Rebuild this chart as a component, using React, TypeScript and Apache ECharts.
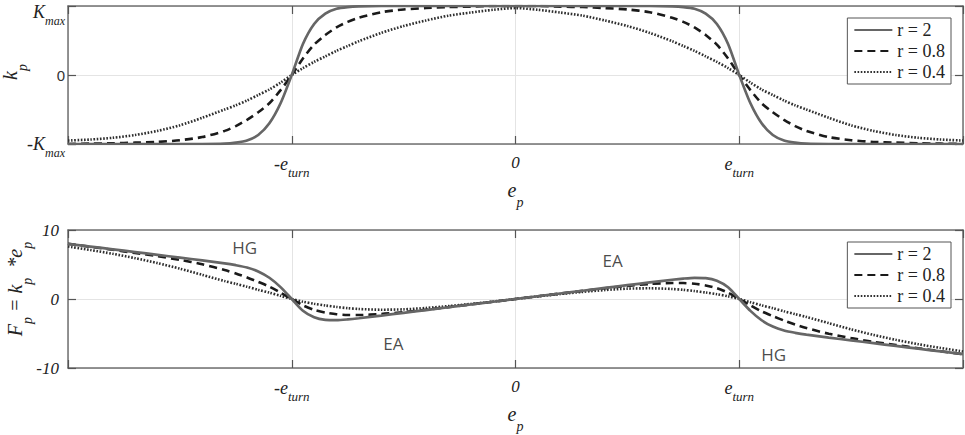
import React, { useEffect, useRef } from "react";
import * as echarts from "echarts";

const seriesNames = ["r = 2", "r = 0.8", "r = 0.4"];

const eValues = [
  -2, -1.9, -1.8, -1.7, -1.6, -1.5, -1.4, -1.3, -1.25, -1.2, -1.15, -1.1, -1.05, -1,
  -0.95, -0.9, -0.85, -0.8, -0.75, -0.7, -0.6, -0.5, -0.4, -0.3, -0.2, -0.1, 0,
  0.1, 0.2, 0.3, 0.4, 0.5, 0.6, 0.7, 0.75, 0.8, 0.85, 0.9, 0.95, 1,
  1.05, 1.1, 1.15, 1.2, 1.25, 1.3, 1.4, 1.5, 1.6, 1.7, 1.8, 1.9, 2,
];

// top panel: k_p (in units of K_max)
const kR2 = [
  -1, -1, -1, -1, -1, -1, -1, -0.995, -0.98, -0.95, -0.87, -0.7, -0.41, 0,
  0.45, 0.74, 0.89, 0.96, 0.985, 0.995, 1, 1, 1, 1, 1, 1, 1,
  1, 1, 1, 1, 1, 1, 0.995, 0.985, 0.96, 0.89, 0.74, 0.45, 0,
  -0.41, -0.7, -0.87, -0.95, -0.98, -0.995, -1, -1, -1, -1, -1, -1, -1,
];
const kR08 = [
  -1, -0.995, -0.99, -0.98, -0.97, -0.945, -0.9, -0.81, -0.74, -0.65, -0.54, -0.41, -0.22, 0,
  0.24, 0.44, 0.58, 0.69, 0.77, 0.83, 0.91, 0.95, 0.97, 0.985, 0.99, 1, 1,
  1, 0.99, 0.985, 0.97, 0.95, 0.91, 0.83, 0.77, 0.69, 0.58, 0.44, 0.24, 0,
  -0.22, -0.41, -0.54, -0.65, -0.74, -0.81, -0.9, -0.945, -0.97, -0.98, -0.99, -0.995, -1,
];
const kR04 = [
  -0.95, -0.935, -0.91, -0.87, -0.81, -0.73, -0.62, -0.5, -0.44, -0.37, -0.29, -0.21, -0.11, 0,
  0.1, 0.19, 0.27, 0.35, 0.42, 0.49, 0.61, 0.71, 0.79, 0.86, 0.905, 0.945, 0.97,
  0.945, 0.905, 0.86, 0.79, 0.71, 0.61, 0.49, 0.42, 0.35, 0.27, 0.19, 0.1, 0,
  -0.11, -0.21, -0.29, -0.37, -0.44, -0.5, -0.62, -0.73, -0.81, -0.87, -0.91, -0.935, -0.95,
];

// bottom panel: F_p = k_p * e_p
const fR2 = [
  8.0, 7.6, 7.2, 6.8, 6.4, 6.0, 5.6, 5.17, 4.9, 4.56, 4.0, 3.08, 1.72, 0,
  -1.71, -2.66, -3.03, -3.07, -2.96, -2.79, -2.4, -2.0, -1.6, -1.2, -0.8, -0.4, 0,
  0.4, 0.8, 1.2, 1.6, 2.0, 2.4, 2.79, 2.96, 3.07, 3.03, 2.66, 1.71, 0,
  -1.72, -3.08, -4.0, -4.56, -4.9, -5.17, -5.6, -6.0, -6.4, -6.8, -7.2, -7.6, -8.0,
];
const fR08 = [
  8.0, 7.56, 7.13, 6.66, 6.21, 5.67, 5.04, 4.21, 3.7, 3.12, 2.48, 1.8, 0.92, 0,
  -0.91, -1.58, -1.97, -2.21, -2.31, -2.32, -2.18, -1.9, -1.55, -1.18, -0.79, -0.4, 0,
  0.4, 0.79, 1.18, 1.55, 1.9, 2.18, 2.32, 2.31, 2.21, 1.97, 1.58, 0.91, 0,
  -0.92, -1.8, -2.48, -3.12, -3.7, -4.21, -5.04, -5.67, -6.21, -6.66, -7.13, -7.56, -8.0,
];
const fR04 = [
  7.6, 7.1, 6.55, 5.92, 5.2, 4.4, 3.5, 2.6, 2.2, 1.78, 1.33, 0.92, 0.46, 0,
  -0.39, -0.7, -0.94, -1.15, -1.33, -1.45, -1.55, -1.5, -1.3, -1.03, -0.72, -0.38, 0,
  0.38, 0.72, 1.03, 1.3, 1.5, 1.55, 1.45, 1.33, 1.15, 0.94, 0.7, 0.39, 0,
  -0.46, -0.92, -1.33, -1.78, -2.2, -2.6, -3.5, -4.4, -5.2, -5.92, -6.55, -7.1, -7.6,
];

const xTickLabels: Record<string, string> = {
  "-1": "{m|-e}{s|turn}",
  "0": "{z|0}",
  "1": "{m|e}{s|turn}",
};
const kTickLabels: Record<string, string> = {
  "1": "{mt|K}{st|max}",
  "0": "{u|0}",
  "-1": "{m|-K}{s|max}",
};
const fTickLabels: Record<string, string> = { "10": "10", "0": "0", "-10": "-10" };

const annotationTexts = ["HG", "EA", "EA", "HG"];
const annotationE = [-1.21, -0.546, 0.434, 1.154];
const annotationF = [7.5, -6.5, 5.65, -8.1];

const SERIF = "'Liberation Serif', 'Times New Roman', serif";
const SANS = "'Open Sans', 'Noto Sans', sans-serif";
const TXT = "#222";
const BORDER = "#707070";

const lineStyles = [
  { color: "#666666", width: 2.7, type: "solid" as any },
  { color: "#1a1a1a", width: 2.6, type: [8, 5] as any },
  { color: "#2e2e2e", width: 2.6, type: [1.6, 1.6] as any },
];

export default function App() {
  const ref = useRef<HTMLDivElement>(null);
  useEffect(() => {
    if (!ref.current) return;
    const chart = echarts.init(ref.current, null, { renderer: "svg" });

    const xRich = {
      m: { fontFamily: SERIF, fontStyle: "italic", fontSize: 18, lineHeight: 20, color: TXT, verticalAlign: "top", padding: [4, 0, 0, 0] },
      s: { fontFamily: SERIF, fontStyle: "italic", fontSize: 13, lineHeight: 16, color: TXT, verticalAlign: "top", padding: [15, 0, 0, 0] },
      z: { fontFamily: SERIF, fontStyle: "italic", fontSize: 17, lineHeight: 20, color: TXT, verticalAlign: "top", padding: [3, 0, 0, 0] },
    };
    const kMain = { fontFamily: SERIF, fontStyle: "italic", fontSize: 18, lineHeight: 20, color: TXT, verticalAlign: "top" };
    const kSub = { fontFamily: SERIF, fontStyle: "italic", fontSize: 12, lineHeight: 14, color: TXT, verticalAlign: "top" };
    const kRich = {
      m: { ...kMain, padding: [9, 0, 23, 0] },
      s: { ...kSub, padding: [21, 0, 0, 0] },
      mt: { ...kMain, padding: [15, 0, 23, 0] },
      st: { ...kSub, padding: [27, 0, 0, 0] },
      u: { fontFamily: "'Liberation Sans', sans-serif", fontSize: 15, color: "#333", padding: [16, 0, 0, 0] },
    };
    const nameRich = {
      m: { fontFamily: SERIF, fontStyle: "italic", fontSize: 20, lineHeight: 22, color: TXT, verticalAlign: "top" },
      s: { fontFamily: SERIF, fontStyle: "italic", fontSize: 14, lineHeight: 16, color: TXT, verticalAlign: "top", padding: [15, 0, 0, 0] },
    };

    const mkX = (gridIndex: number, bottom: boolean) => ({
      type: "value",
      gridIndex,
      position: bottom ? "bottom" : "top",
      min: -2,
      max: 2,
      interval: 1,
      axisLine: { show: true, onZero: false, lineStyle: { color: BORDER, width: 1.5 } },
      axisTick: { show: true, inside: true, length: 8, lineStyle: { color: "#555", width: 1.2 } },
      splitLine: { show: bottom, lineStyle: { color: "#e4e4e4", width: 1 } },
      axisLabel: bottom
        ? {
            show: true,
            margin: 7,
            formatter: (v: number) => xTickLabels[String(v)] || "",
            rich: xRich,
          }
        : { show: false },
      name: bottom ? "{m|e}{s|p}" : "",
      nameLocation: "middle",
      nameGap: 36,
      nameMoveOverlap: false,
      nameTextStyle: { rich: nameRich },
    });

    const mkY = (gridIndex: number, left: boolean, top: boolean) => ({
      type: "value",
      gridIndex,
      position: left ? "left" : "right",
      min: top ? -1 : -10,
      max: top ? 1 : 10,
      interval: top ? 1 : 10,
      axisLine: { show: true, onZero: false, lineStyle: { color: BORDER, width: 1.5 } },
      axisTick: { show: true, inside: true, length: 8, lineStyle: { color: "#555", width: 1.2 } },
      splitLine: { show: left, lineStyle: { color: "#e4e4e4", width: 1 } },
      axisLabel: left
        ? top
          ? {
              show: true,
              margin: 3,
              padding: [0, 0, 16, 0],
              formatter: (v: number) => kTickLabels[String(v)] || "",
              rich: kRich,
            }
          : {
              show: true,
              margin: 9,
              formatter: (v: number) => fTickLabels[String(v)] || "",
              fontFamily: SERIF,
              fontStyle: "italic",
              fontSize: 17,
              color: TXT,
            }
        : { show: false },
      name: left ? (top ? "{m|k}{s|p}" : "{m|F}{s|p}{m| = k}{s|p}{m|  *e}{s|p}") : "",
      nameLocation: "middle",
      nameRotate: 90,
      nameGap: top ? 46 : 41,
      nameMoveOverlap: false,
      nameTextStyle: { rich: nameRich, padding: top ? [0, 0, 0, 6] : [0, 0, 0, 20] },
    });

    const lineSeries = (arr: number[], i: number, axisIdx: number) => ({
      type: "line",
      name: seriesNames[i],
      xAxisIndex: axisIdx,
      yAxisIndex: axisIdx,
      data: eValues.map((e, j) => [e, arr[j]]),
      showSymbol: false,
      symbol: "none",
      smooth: 0.25,
      lineStyle: lineStyles[i],
      itemStyle: { color: lineStyles[i].color },
      z: 5 - i,
      silent: true,
    });

    const legendBase = {
      orient: "vertical",
      right: 14,
      data: seriesNames.map((n) => ({ name: n, itemStyle: { opacity: 0 } })),
      itemWidth: 38,
      itemHeight: 14,
      itemGap: 3,
      padding: [3, 6, 3, 6],
      backgroundColor: "#fff",
      borderColor: "#555",
      borderWidth: 1,
      borderRadius: 0,
      selectedMode: false,
      itemStyle: { opacity: 0 },
      textStyle: { fontFamily: SERIF, fontSize: 18, color: "#222" },
    };

    chart.setOption({
      animation: false,
      backgroundColor: "#fff",
      grid: [
        { left: 68, right: 2, top: 6, height: 138, containLabel: false, outerBoundsMode: "none" },
        { left: 68, right: 2, top: 230, height: 138, containLabel: false, outerBoundsMode: "none" },
      ],
      xAxis: [mkX(0, true), mkX(0, false), mkX(1, true), mkX(1, false)],
      yAxis: [mkY(0, true, true), mkY(0, false, true), mkY(1, true, false), mkY(1, false, false)],
      legend: [
        { ...legendBase, top: 18 },
        { ...legendBase, top: 242 },
      ],
      series: [
        lineSeries(kR2, 0, 0),
        lineSeries(kR08, 1, 0),
        lineSeries(kR04, 2, 0),
        { ...lineSeries(fR2, 0, 0), xAxisIndex: 2, yAxisIndex: 2 },
        { ...lineSeries(fR08, 1, 0), xAxisIndex: 2, yAxisIndex: 2 },
        { ...lineSeries(fR04, 2, 0), xAxisIndex: 2, yAxisIndex: 2 },
        {
          type: "scatter",
          name: "annotations",
          xAxisIndex: 2,
          yAxisIndex: 2,
          symbolSize: 1,
          itemStyle: { color: "rgba(0,0,0,0)" },
          silent: true,
          data: annotationTexts.map((t, i) => ({ name: t, value: [annotationE[i], annotationF[i]] })),
          label: {
            show: true,
            position: "inside",
            formatter: "{b}",
            fontFamily: SANS,
            fontSize: 17,
            color: "#1a1a1a",
          },
        },
      ],
    });
    return () => chart.dispose();
  }, []);
  return (
    <div
      ref={ref}
      style={{ position: "absolute", left: 0, top: 0, width: 965, height: 435, background: "#fff" }}
    />
  );
}
